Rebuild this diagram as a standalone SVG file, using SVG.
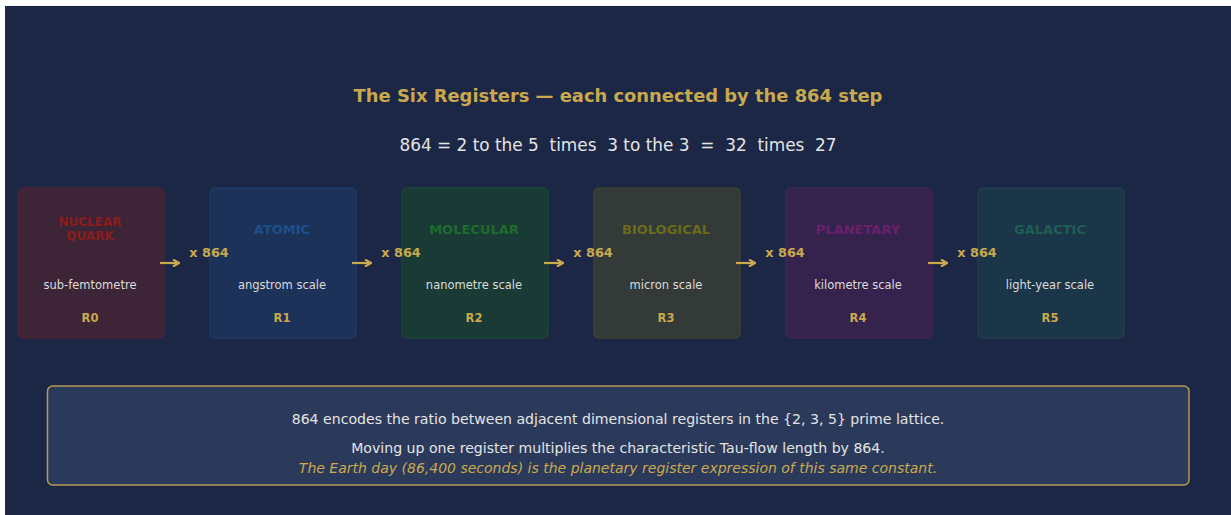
<svg xmlns="http://www.w3.org/2000/svg" width="1231" height="515" viewBox="0 0 1231 515">
<defs>
<style>
text{font-family:"DejaVu Sans","Liberation Sans",sans-serif;text-anchor:middle}
.title{font-size:17.9px;font-weight:bold;fill:#c9a94f}
.sub{font-size:16.9px;fill:#e4e4e4;white-space:pre}
.nt{font-size:13px;font-weight:bold}
.nq{font-size:12px;font-weight:bold}
.sc{font-size:11.5px;fill:#dcdcdc}
.rl{font-size:11.5px;font-weight:bold;fill:#c9a94f}
.ml{font-size:12.8px;font-weight:bold;fill:#c9a94f}
.note{font-size:14.1px;fill:#e4e4e4}
.it{font-size:14px;font-style:italic;fill:#c9a94f}
.node rect{stroke-width:1.5}
.conn line{stroke:#c9a94f;stroke-width:2.2}
</style>
<marker id="ah" markerWidth="8" markerHeight="8" refX="6" refY="4" orient="auto" markerUnits="userSpaceOnUse">
<path d="M1,0.5 L7,4 L1,7.5" fill="none" stroke="#c9a94f" stroke-width="2.2"/>
</marker>
</defs>
<rect x="0" y="0" width="1231" height="515" fill="#ffffff"/>
<rect x="5" y="6" width="1226" height="509" fill="#1b2744"/>
<text class="title" x="618" y="102">The Six Registers — each connected by the 864 step</text>
<text class="sub" x="618" y="150.5" xml:space="preserve">864 = 2 to the 5  times  3 to the 3  =  32  times  27</text>

<g id="r0" class="node">
<rect x="18" y="188" width="146" height="150" rx="5" fill="#3d2436" stroke="#47233a"/>
<text class="nq" x="90" y="226" fill="#8b1c1c">NUCLEAR</text>
<text class="nq" x="90" y="239.5" fill="#8b1c1c">QUARK</text>
<text class="sc" x="90" y="289">sub-femtometre</text>
<text class="rl" x="90" y="322">R0</text>
</g>
<g id="r1" class="node">
<rect x="210" y="188" width="146" height="150" rx="5" fill="#1c3259" stroke="#1f3a68"/>
<text class="nt" x="282" y="233.5" fill="#1f4e8c">ATOMIC</text>
<text class="sc" x="282" y="289">angstrom scale</text>
<text class="rl" x="282" y="322">R1</text>
</g>
<g id="r2" class="node">
<rect x="402" y="188" width="146" height="150" rx="5" fill="#193a35" stroke="#1b4437"/>
<text class="nt" x="474" y="233.5" fill="#1f6b2e">MOLECULAR</text>
<text class="sc" x="474" y="289">nanometre scale</text>
<text class="rl" x="474" y="322">R2</text>
</g>
<g id="r3" class="node">
<rect x="594" y="188" width="146" height="150" rx="5" fill="#333a38" stroke="#3e4233"/>
<text class="nt" x="666" y="233.5" fill="#6b6b1f">BIOLOGICAL</text>
<text class="sc" x="666" y="289">micron scale</text>
<text class="rl" x="666" y="322">R3</text>
</g>
<g id="r4" class="node">
<rect x="786" y="188" width="146" height="150" rx="5" fill="#35234d" stroke="#3e2455"/>
<text class="nt" x="858" y="233.5" fill="#6b1f6b">PLANETARY</text>
<text class="sc" x="858" y="289">kilometre scale</text>
<text class="rl" x="858" y="322">R4</text>
</g>
<g id="r5" class="node">
<rect x="978" y="188" width="146" height="150" rx="5" fill="#1c3649" stroke="#1f3f4f"/>
<text class="nt" x="1050" y="233.5" fill="#1f5e55">GALACTIC</text>
<text class="sc" x="1050" y="289">light-year scale</text>
<text class="rl" x="1050" y="322">R5</text>
</g>

<g id="connectors" class="conn">
<line x1="160" y1="263" x2="178" y2="263" marker-end="url(#ah)"/>
<line x1="352" y1="263" x2="370" y2="263" marker-end="url(#ah)"/>
<line x1="544" y1="263" x2="562" y2="263" marker-end="url(#ah)"/>
<line x1="736" y1="263" x2="754" y2="263" marker-end="url(#ah)"/>
<line x1="928" y1="263" x2="946" y2="263" marker-end="url(#ah)"/>
<text class="ml" x="209" y="256.5">x 864</text>
<text class="ml" x="401" y="256.5">x 864</text>
<text class="ml" x="593" y="256.5">x 864</text>
<text class="ml" x="785" y="256.5">x 864</text>
<text class="ml" x="977" y="256.5">x 864</text>
</g>

<g id="note">
<rect x="47.5" y="386" width="1141.5" height="99" rx="5" fill="#2b3a5a" stroke="#b39a55" stroke-width="1.5"/>
<text class="note" x="618" y="424">864 encodes the ratio between adjacent dimensional registers in the {2, 3, 5} prime lattice.</text>
<text class="note" x="618" y="453">Moving up one register multiplies the characteristic Tau-flow length by 864.</text>
<text class="it" x="618" y="473">The Earth day (86,400 seconds) is the planetary register expression of this same constant.</text>
</g>
</svg>
